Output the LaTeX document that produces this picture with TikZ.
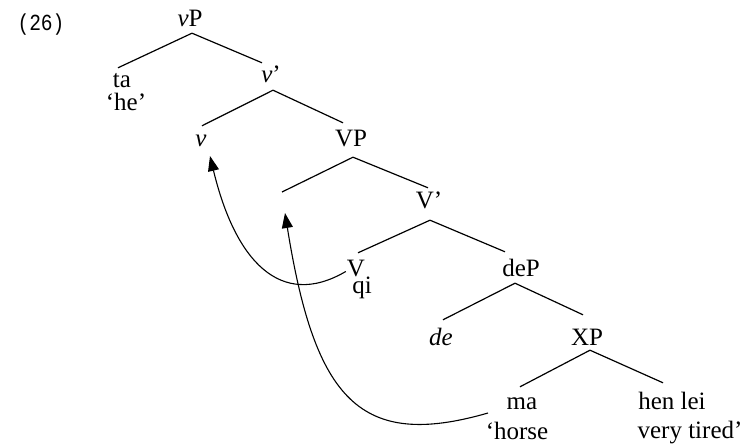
\documentclass[tikz,border=0pt]{standalone}
\usepackage{fontspec}
\setmainfont{Liberation Serif}
\newfontfamily\exfont[FakeStretch=0.85]{Liberation Mono}
\usetikzlibrary{arrows.meta}
\begin{document}
\begin{tikzpicture}[x=1pt,y=-1pt,
  lab/.style={anchor=base, inner sep=3pt, text height=17pt, text depth=5pt, font=\fontsize{25}{30}\selectfont},
  branch/.style={line width=1.2pt},
  move/.style={line width=1.1pt, -{Triangle[length=15pt,width=11pt]}}]
\useasboundingbox (0,0) rectangle (747,446);
\node[anchor=base, inner sep=0pt, font=\exfont\fontsize{23}{26}\selectfont] (ex) at (41,31) {(26)};
% nodes
\node[lab] (vP) at (190,27) {\textit{v}P};
\node[lab] (ta) at (122,88) {ta};
\node[lab] (he) at (126,111) {‘he’};
\node[lab] (vbar) at (271,83) {\textit{v}’};
\node[lab] (v) at (201,147) {\textit{v}};
\node[lab] (VP) at (351,147) {VP};
\coordinate (spec) at (282,192);
\node[lab] (Vbar) at (429,209) {V’};
\node[lab, text depth=0pt, inner sep=1pt] (V) at (356,277) {V};
\node[lab, text height=11pt, inner sep=1pt] (qi) at (362,294) {qi};
\node[lab] (deP) at (521,277) {deP};
\node[lab] (de) at (441,345) {\textit{de}};
\node[lab] (XP) at (587,345) {XP};
\node[lab] (ma) at (522,409) {ma};
\node[lab] (horse) at (517,439) {‘horse};
\node[lab] (henlei) at (672,409) {hen lei};
\node[lab] (tired) at (690,438) {very tired’};
% branches
\draw[branch] ([shift={(2,-2)}]vP.south) -- ([shift={(-4,0)}]ta.north);
\draw[branch] ([shift={(2,-2)}]vP.south) -- ([shift={(-9,0)}]vbar.north);
\draw[branch] ([shift={(2,-1)}]vbar.south) -- ([shift={(1,-1)}]v.north);
\draw[branch] ([shift={(2,-1)}]vbar.south) -- ([shift={(-8,-4)}]VP.north);
\draw[branch] ([shift={(2,2)}]VP.south) -- (spec);
\draw[branch] ([shift={(2,2)}]VP.south) -- ([shift={(-1,-1)}]Vbar.north);
\draw[branch] ([shift={(1,3)}]Vbar.south) -- ([shift={(2,-6)}]V.north);
\draw[branch] ([shift={(1,3)}]Vbar.south) -- ([shift={(-16,-5)}]deP.north);
\draw[branch] ([shift={(-6,-2)}]deP.south) -- ([shift={(2,-5)}]de.north);
\draw[branch] ([shift={(-6,-2)}]deP.south) -- ([shift={(-4,-10)}]XP.north);
\draw[branch] ([shift={(3,-3)}]XP.south) -- ([shift={(-2,-2)}]ma.north);
\draw[branch] ([shift={(3,-3)}]XP.south) -- ([shift={(-9,-6)}]henlei.north);
% movement arrows
\coordinate (t1) at (210,156);
\coordinate (s2) at (488,413);
\coordinate (t2) at (285,213);
\draw[move] ([shift={(0,3)}]V.west) .. controls (280,310) and (235,260) .. (t1);
\draw[move] (s2) .. controls (360,450) and (315,400) .. (t2);
\end{tikzpicture}
\end{document}
